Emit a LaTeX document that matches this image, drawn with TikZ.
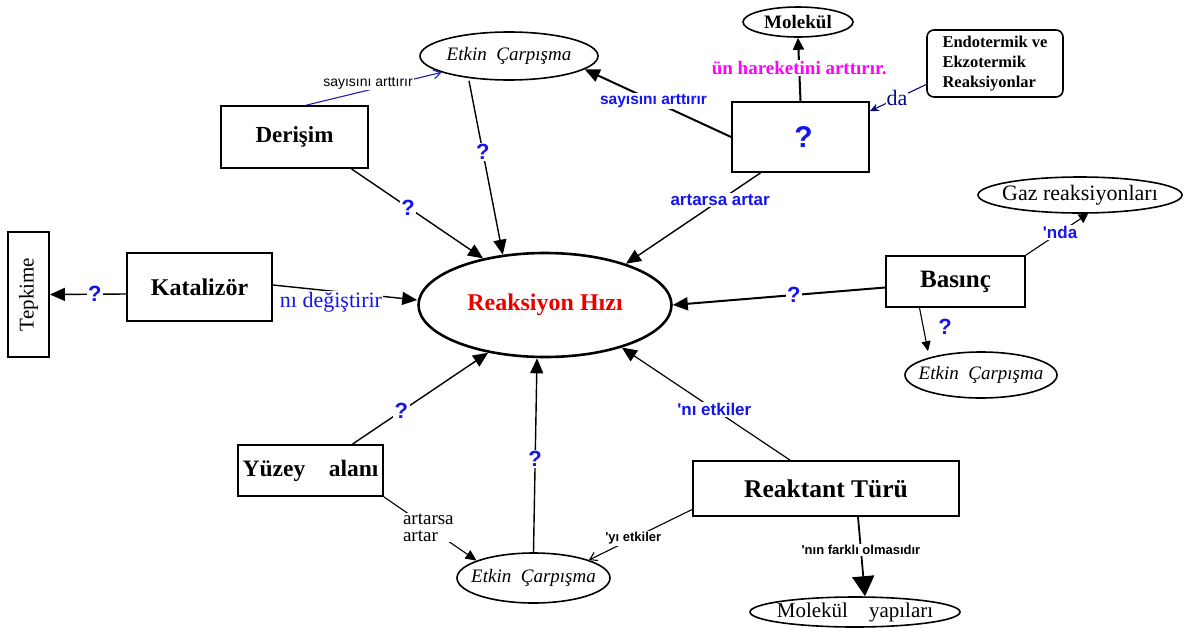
\documentclass[tikz,border=0pt]{standalone}
\usepackage{fontspec}
\setmainfont{Liberation Serif}
\setsansfont{Liberation Sans}
\usetikzlibrary{shapes.geometric,arrows.meta,calc}
\definecolor{qblue}{RGB}{20,20,240}
\definecolor{dnavy}{RGB}{10,10,130}
\definecolor{tblue}{RGB}{30,30,180}
\definecolor{mag}{RGB}{255,0,255}
\definecolor{rred}{RGB}{235,0,0}
\newcommand{\fsz}[1]{\fontsize{#1}{#1}\selectfont}
\begin{document}
\begin{tikzpicture}[x=1pt,y=-1pt,
 box/.style={draw,line width=1.8pt,inner sep=0pt,font=\bfseries\fsz{23}},
 ell/.style={draw,ellipse,line width=1.6pt,inner xsep=-20pt,inner ysep=-8pt},
 itl/.style={font=\itshape\fsz{19}},
 qm/.style={text=qblue,font=\sffamily\bfseries\fsz{22},fill=white,inner sep=1.5pt},
 blab/.style={text=qblue,font=\sffamily\bfseries\fsz{17},fill=white,inner sep=1.5pt},
 klab/.style={text=black,font=\sffamily\fsz{14},fill=white,inner sep=1.5pt},
 conn/.style={line width=1.4pt,-{Triangle[length=15pt,width=13pt]}},
 tline/.style={line width=1.1pt}]
\useasboundingbox (0,0) rectangle (1188,627);
\fill[white] (0,0) rectangle (1188,627);

% nodes
\node[ell,line width=2.6pt,minimum width=253,minimum height=104,text=rred,font=\bfseries\fsz{24}] (reak) at (545,305) {Reaksiyon Hızı};
\node[ell,minimum width=178,minimum height=48,itl] (etk1) at (509,56) {Etkin\ \ Çarpışma};
\node[box,minimum width=147,minimum height=62] (deri) at (294.5,137) {Derişim};
\node[ell,minimum width=110,minimum height=30,font=\bfseries\fsz{19}] (mol) at (798,22) {Molekül};
\node[box,minimum width=137,minimum height=70,text=qblue,font=\sffamily\bfseries\fsz{30}] (qbox) at (800.5,137) {\raisebox{-2pt}{\hspace{6pt}?}};
\node[draw,rounded corners=7pt,line width=1.6pt,minimum width=136,minimum height=67,inner sep=0pt,align=left,font=\bfseries\fontsize{16.5}{20}\selectfont] (endo) at (995,63.5) {Endotermik ve\\Ekzotermik\\Reaksiyonlar};
\node[ell,minimum width=204,minimum height=36,font=\fsz{22}] (gaz) at (1080,195) {Gaz reaksiyonları};
\node[box,minimum width=139,minimum height=51,font=\bfseries\fsz{25}] (bas) at (955.5,281.5) {Basınç};
\node[ell,minimum width=152,minimum height=46,itl] (etk3) at (981,375) {Etkin\ \ Çarpışma};
\node[box,rotate=90,minimum width=125,minimum height=41,font=\fsz{21}] (tepk) at (28.5,294.5) {Tepkime};
\node[box,minimum width=145,minimum height=68,font=\bfseries\fsz{24}] (kat) at (199.5,287) {Katalizör};
\node[box,minimum width=145,minimum height=51,font=\bfseries\fsz{23.5}] (yuz) at (310.5,470.5) {Yüzey\quad alanı};
\node[ell,minimum width=153,minimum height=50,itl] (etk2) at (533.5,578) {Etkin\ \ Çarpışma};
\node[box,minimum width=266,minimum height=55,font=\bfseries\fsz{25.5}] (reakt) at (826,488.5) {Reaktant Türü};
\node[ell,minimum width=210,minimum height=30,font=\fsz{21}] (molyap) at (855,612) {Molekül\quad yapıları};

% connectors
\draw[tline,tblue,-{Straight Barb[length=7pt,width=9pt]}] ([xshift=12pt]deri.north) -- (etk1);
\node[klab] (l1) at (368,83) {sayısını arttırır};

\draw[conn] ([xshift=-40pt]etk1.south) -- node[qm,pos=0.41]{?} (reak.130);
\draw[conn] ([xshift=57pt]deri.south) -- node[qm,pos=0.43]{?} (reak.143);

\draw[conn,line width=2pt] (qbox.west) -- node[blab,font=\sffamily\bfseries\fsz{15.5},pos=0.53]{sayısını arttırır} (etk1.350);
\draw[conn,line width=2pt,-{Triangle[length=12pt,width=11pt]}] (qbox.north) -- node[pos=0.52,fill=white,text=mag,font=\bfseries\fsz{19},inner sep=1pt]{ün hareketini arttırır.} (mol.south);
\draw[conn] ([xshift=-40pt]qbox.south) -- node[blab,pos=0.3]{artarsa artar} (reak.27);
\draw[tline,dnavy,-{Stealth[length=9pt,width=8pt]}] ([yshift=-21pt]endo.west) -- node[pos=0.52,fill=white,text=dnavy,font=\fsz{22},inner sep=1pt]{da} ([yshift=-10pt]qbox.north east);

\draw[tline,-{Triangle[length=9pt,width=10pt]}] (bas.north east) -- node[blab,pos=0.55]{\textquotesingle nda} ([xshift=8pt]gaz.south);
\draw[conn,line width=2pt] ([yshift=-6pt]bas.west) -- node[qm,pos=0.43]{?} (reak.east);
\draw[tline,-{Triangle[length=10pt,width=9pt]}] ([xshift=-36pt]bas.south) -- ([xshift=-53pt]etk3.north);
\node[text=qblue,font=\sffamily\bfseries\fsz{22}] (q3) at (945,327) {?};

\draw[conn] ([yshift=-7pt]kat.west) -- node[qm,pos=0.41]{?} (tepk.south);
\draw[conn] ([yshift=2pt]kat.east) -- ([yshift=5pt]reak.west);
\node[fill=white,text=qblue,font=\fsz{22},inner sep=1pt] (l2) at (331,302) {nı değiştirir};

\draw[conn] ([xshift=42pt]yuz.north) -- node[qm,pos=0.36]{?} (reak.220);
\draw[tline,-{Triangle[length=11pt,width=10pt]}] (yuz.south east) -- node[pos=0.48,fill=white,font=\fontsize{19}{17}\selectfont,align=left,inner sep=1pt]{artarsa\\artar} (etk2.163);
\draw[conn] (etk2.north) -- node[qm,pos=0.48]{?} ([xshift=-8pt]reak.south);

\draw[conn,line width=1.2pt] ([xshift=-36pt]reakt.north) -- node[blab,pos=0.45]{\textquotesingle nı etkiler} (reak.331);
\draw[tline,-{Straight Barb[length=7pt,width=9pt]}] ([yshift=-21pt]reakt.west) -- node[klab,font=\sffamily\bfseries\fsz{13},pos=0.57]{\textquotesingle yı etkiler} (etk2.18);
\draw[conn,line width=1.8pt,-{Triangle[length=20pt,width=22pt]}] ([xshift=32pt]reakt.south) -- node[klab,font=\sffamily\bfseries\fsz{13},pos=0.42]{\textquotesingle nın farklı olmasıdır} ([xshift=10pt]molyap.north);
\end{tikzpicture}
\end{document}
